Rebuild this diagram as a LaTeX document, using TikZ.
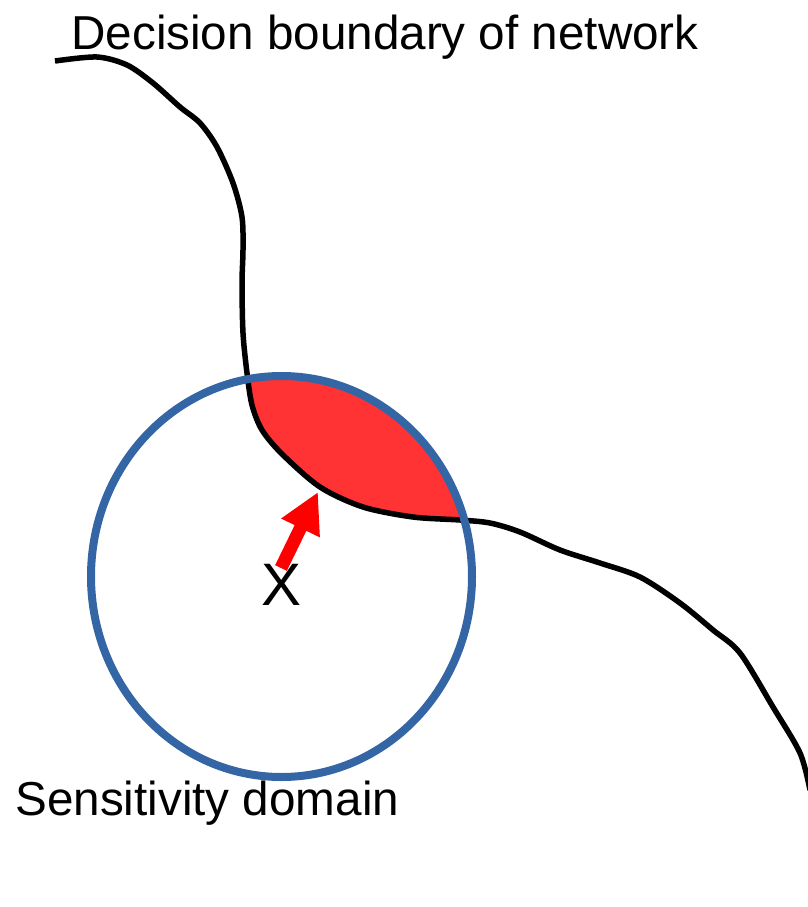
\documentclass[tikz,border=0pt]{standalone}
\usepackage{fontspec}
\setmainfont{Liberation Sans}
\usetikzlibrary{arrows.meta}
\definecolor{domainblue}{HTML}{3465A4}
\definecolor{lensred}{HTML}{FF3333}
\tikzset{
  label text/.style={font=\fontsize{27.1pt}{32pt}\selectfont, inner sep=0pt},
  boundary/.style={line width=1.1mm, black, line join=round},
}
\begin{document}
\begin{tikzpicture}[x=0.2mm,y=-0.2mm]
				\useasboundingbox (0,0) rectangle (808,907);
				% Red lens between circle and boundary
				\begin{scope}
				\clip (281.5,576.5) ellipse [x radius=190.5, y radius=200.5];
				\fill[lensred] plot[smooth] coordinates {(55,61) (97,57) (127,65) (153,83) (180,107) (200,123) (217,147) (233,183) (242,217) (243,250) (242,283) (243,333) (247,373) (252,405) (262,430) (282,454) (320,487) (363,507) (413,517) (460,520) (490,523) (520,532) (560,550) (600,563) (640,577) (680,603) (713,630) (740,653) (773,707) (800,753) (810,790)} -- (810,0) -- (55,0) -- cycle;
				\end{scope}
				% Decision boundary
				\draw[boundary] plot[smooth] coordinates {(55,61) (97,57) (127,65) (153,83) (180,107) (200,123) (217,147) (233,183) (242,217) (243,250) (242,283) (243,333) (247,373) (252,405) (262,430) (282,454) (320,487) (363,507) (413,517) (460,520) (490,523) (520,532) (560,550) (600,563) (640,577) (680,603) (713,630) (740,653) (773,707) (800,753) (810,790)};
				% Sensitivity domain
				\draw[domainblue, line width=1.6mm] (281.5,576.5) ellipse [x radius=190.5, y radius=200.5];
				% Point x and step towards boundary
				\node[label text, font=\fontsize{34.1pt}{40pt}\selectfont, anchor=base] (xpoint) at (281,605) {X};
				\coordinate (xfoot) at (281,568);
				\coordinate (xhead) at (318,492);
				\draw[red, line width=2.6mm, -{Triangle[length=8mm,width=8mm]}] (xfoot) -- (xhead);
				% Labels
				\node[label text, anchor=base west] (boundarylabel) at (71,49) {Decision boundary of network};
				\node[label text, anchor=base west] (domainlabel) at (15,815) {Sensitivity domain};
\end{tikzpicture}
\end{document}
